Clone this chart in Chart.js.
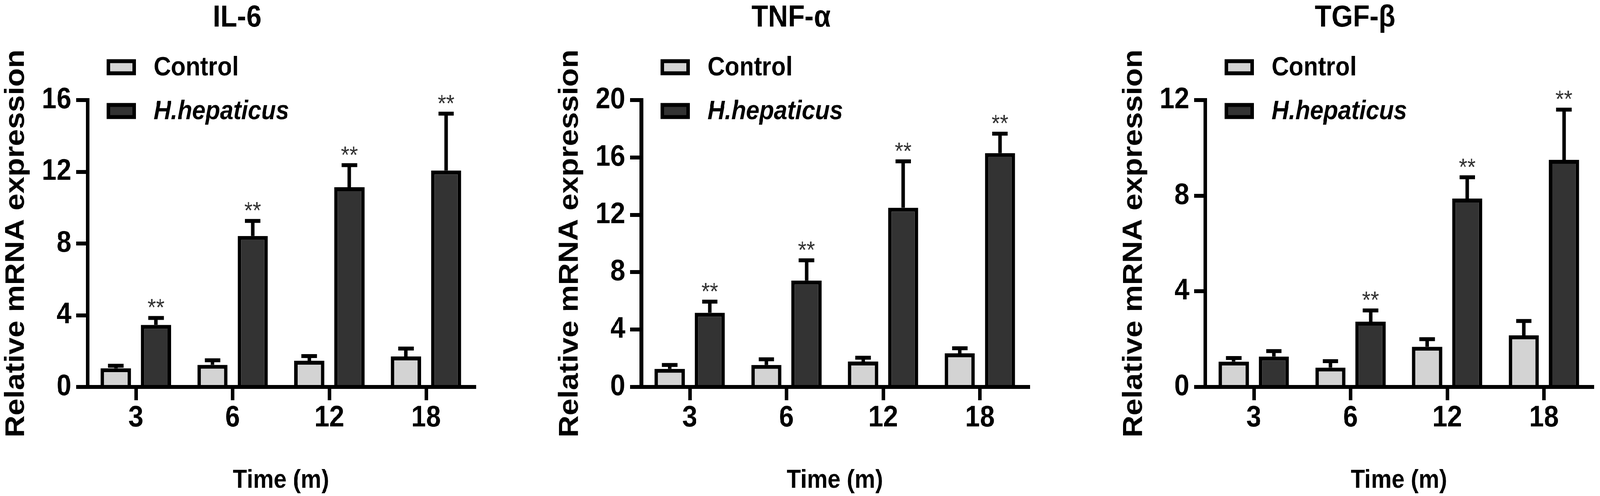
<!DOCTYPE html>
<html>
<head>
<meta charset="utf-8">
<script src="https://cdn.jsdelivr.net/npm/chart.js@4.4.1/dist/chart.umd.min.js"></script>
<style>
  html, body { margin: 0; background: #fff; overflow: hidden; }
  #wrap { position: absolute; left: 0; top: 0; width: 4550px; height: 1269px; transform-origin: 0 0; }
  canvas { position: absolute; top: 0; }
</style>
</head>
<body>
<div id="wrap">
<canvas id="il6" width="1370" height="1269" style="left:0px"></canvas>
<canvas id="tnf" width="1370" height="1269" style="left:1575px"></canvas>
<canvas id="tgf" width="1370" height="1269" style="left:3179px"></canvas>
</div>
<script>
// data (months)
const months = ["3", "6", "12", "18"];

const il6Control = [1.04, 1.23, 1.46, 1.70];
const il6ControlSd = [0.14, 0.26, 0.26, 0.44];
const il6Hh = [3.46, 8.42, 11.14, 12.07];
const il6HhSd = [0.39, 0.84, 1.23, 3.17];
const il6Sig = ["**", "**", "**", "**"];

const tnfControl = [1.26, 1.53, 1.77, 2.34];
const tnfControlSd = [0.27, 0.40, 0.27, 0.36];
const tnfHh = [5.17, 7.42, 12.49, 16.30];
const tnfHhSd = [0.78, 1.41, 3.24, 1.36];
const tnfSig = ["**", "**", "**", "**"];

const tgfControl = [1.06, 0.81, 1.68, 2.16];
const tgfControlSd = [0.15, 0.27, 0.32, 0.60];
const tgfHh = [1.27, 2.73, 7.88, 9.50];
const tgfHhSd = [0.23, 0.47, 0.89, 2.10];
const tgfSig = ["", "**", "**", "**"];

// stretch the 4550x1269 figure over the whole viewport
const kx = window.innerWidth / 4550;
const ky = window.innerHeight / 1269;
document.getElementById("wrap").style.transform = "scale(" + kx + "," + ky + ")";

const FONT = "'Liberation Sans', Arial, sans-serif";
Chart.defaults.font.family = FONT;
Chart.defaults.color = "#000";

// mean + SD whiskers and the ** marks
const errorBars = {
  id: "errorBars",
  afterDatasetsDraw(chart) {
    const ctx = chart.ctx;
    const y = chart.scales.y;
    ctx.save();
    chart.data.datasets.forEach((ds, di) => {
      chart.getDatasetMeta(di).data.forEach((bar, i) => {
        const top = y.getPixelForValue(ds.data[i] + ds.sd[i]);
        ctx.strokeStyle = "#000";
        ctx.lineWidth = 10;
        ctx.beginPath();
        ctx.moveTo(bar.x, bar.y);
        ctx.lineTo(bar.x, top);
        ctx.moveTo(bar.x - 22, top);
        ctx.lineTo(bar.x + 22, top);
        ctx.stroke();
        if (ds.sig && ds.sig[i]) {
          ctx.fillStyle = "#333";
          ctx.font = "62px " + FONT;
          ctx.textAlign = "center";
          ctx.textBaseline = "alphabetic";
          ctx.fillText(ds.sig[i], bar.x, top - 6);
        }
      });
    });
    ctx.restore();
  }
};

// legend sitting over the top left of the plot
const boxLegend = {
  id: "boxLegend",
  afterDraw(chart) {
    const { ctx, chartArea } = chart;
    ctx.save();
    chart.data.datasets.forEach((ds, i) => {
      const bx = chartArea.left + 54;
      const cy = chartArea.top - 84 + i * 112;
      ctx.fillStyle = "#000";
      ctx.fillRect(bx, cy - 20.5, 84, 41);
      ctx.fillStyle = ds.backgroundColor;
      ctx.fillRect(bx + 10, cy - 10.5, 64, 21);
      ctx.fillStyle = "#000";
      ctx.font = (i === 1 ? "italic " : "") + "bold 68px " + FONT;
      ctx.textAlign = "left";
      ctx.textBaseline = "middle";
      ctx.fillText(ds.label, chartArea.left + 188, cy + 2);
    });
    ctx.restore();
  }
};

function makeChart(id, title, yMax, control, controlSd, hh, hhSd, sig) {
  return new Chart(document.getElementById(id), {
    type: "bar",
    data: {
      labels: months,
      datasets: [
        { label: "Control", data: control, sd: controlSd, backgroundColor: "#d3d3d3",
          borderColor: "#000", borderWidth: 10, borderSkipped: "bottom" },
        { label: "H.hepaticus", data: hh, sd: hhSd, sig: sig, backgroundColor: "#333333",
          borderColor: "#000", borderWidth: 10, borderSkipped: "bottom" }
      ]
    },
    options: {
      responsive: false,
      animation: false,
      devicePixelRatio: 1,
      categoryPercentage: 0.83,
      barPercentage: 0.754,
      layout: { padding: { left: 0, right: 21, top: 0, bottom: 0 } },
      plugins: {
        legend: { display: false },
        tooltip: { enabled: false },
        title: {
          display: true, text: title, color: "#000",
          font: { size: 78, weight: "bold" },
          padding: { top: 0, bottom: 162.4 }
        }
      },
      scales: {
        x: {
          grid: { drawOnChartArea: false, offset: false, tickLength: 34, tickWidth: 10, lineWidth: 10, color: "#000", tickColor: "#000" },
          border: { display: true, width: 10, color: "#000" },
          ticks: { font: { size: 76, weight: "bold" }, color: "#000", padding: 0, maxRotation: 0 },
          title: { display: true, text: "Time (m)", color: "#000", font: { size: 66, weight: "bold" }, padding: 0 },
          afterFit: s => { s.height = 279; }
        },
        y: {
          min: 0, max: yMax,
          grid: { drawOnChartArea: false, tickLength: 32, tickWidth: 10, lineWidth: 10, color: "#000", tickColor: "#000" },
          border: { display: true, width: 10, color: "#000" },
          ticks: { stepSize: 4, font: { size: 76, weight: "bold" }, color: "#000", padding: 14 },
          title: { display: true, text: "Relative mRNA expression", color: "#000", font: { size: 78, weight: "bold" }, padding: 0 },
          afterFit: s => { s.width = 249; }
        }
      }
    },
    plugins: [errorBars, boxLegend]
  });
}

makeChart("il6", "IL-6", 16, il6Control, il6ControlSd, il6Hh, il6HhSd, il6Sig);
makeChart("tnf", "TNF-\u03b1", 20, tnfControl, tnfControlSd, tnfHh, tnfHhSd, tnfSig);
makeChart("tgf", "TGF-\u03b2", 12, tgfControl, tgfControlSd, tgfHh, tgfHhSd, tgfSig);
</script>
</body>
</html>
